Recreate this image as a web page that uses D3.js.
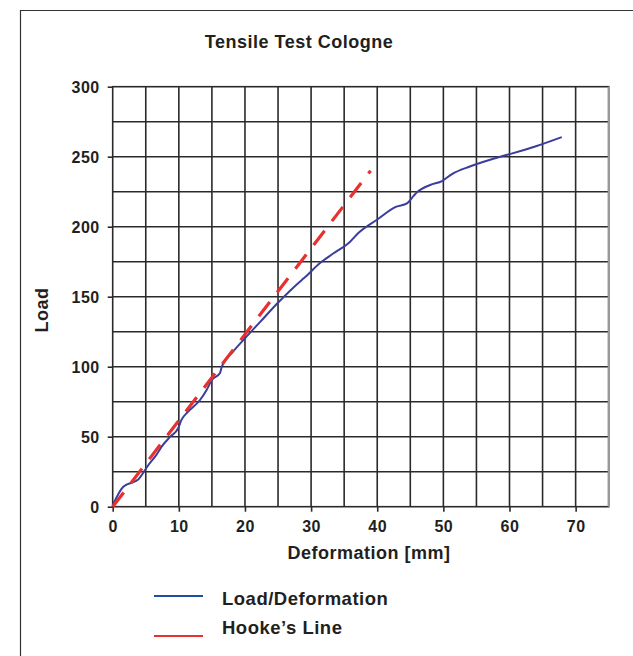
<!DOCTYPE html>
<html><head><meta charset="utf-8">
<script src="https://cdn.jsdelivr.net/npm/d3@7"></script>
<style>
html,body{margin:0;padding:0;background:#fff;}
svg{display:block;}
text{font-family:"Liberation Sans",Arial,Helvetica,sans-serif;font-weight:bold;fill:#231f20;}
</style></head>
<body><svg id="c" width="633" height="656"></svg>
<script>
const title = "Tensile Test Cologne";
const xLabel = "Deformation [mm]";
const yLabel = "Load";
const xTicks = [0,10,20,30,40,50,60,70];
const yTicks = [0,50,100,150,200,250,300];
const loadDefX = [0,1.6,3.9,5.4,6.6,7.4,8.7,9.9,10.4,11.4,13.2,14.2,15,16.2,16.5,18.2,20,22.3,24.8,28.6,29.1,31.3,33.4,35.9,37.1,39.9,42.9,44.5,45.5,46,48,49.8,51.3,54,58.6,60.3,64,67.9];
const loadDefY = [1,14.3,19.6,29.8,37,42.9,50,56,62,67.9,76.2,83.4,90.5,95.3,100,110.7,120.3,132,144.8,162,164,173.9,181,189.3,195.3,204.8,214.3,216.7,222,224.5,229.8,232.6,237.6,243,250,252.2,257.5,264];
const hookeX = [0,39];
const hookeY = [0,240];
const legendLabels = ["Load/Deformation","Hooke\u2019s Line"];
const colors = {load:"#3a3d9c", hooke:"#e8302f", loadLegend:"#1f4f9f"};

const svg = d3.select("#c");
const x = d3.scaleLinear().domain([0,75]).range([112.7,608.7]);
const y = d3.scaleLinear().domain([0,300]).range([506.7,86.7]);

// outer frame
svg.append("path").attr("d","M20.5,656 V10.5 H633").attr("fill","none").attr("stroke","#333").attr("stroke-width",1.2);

// grid
const g = svg.append("g");
g.selectAll(".gx").data(d3.range(5,75,5)).enter().append("line")
 .attr("x1",d=>x(d)).attr("x2",d=>x(d)).attr("y1",y(0)).attr("y2",y(300))
 .attr("stroke","#2a2a2a").attr("stroke-width",1.6);
g.selectAll(".gy").data(d3.range(25,300,25)).enter().append("line")
 .attr("x1",x(0)).attr("x2",x(75)).attr("y1",d=>y(d)).attr("y2",d=>y(d))
 .attr("stroke","#2a2a2a").attr("stroke-width",1.6);
// border
g.append("rect").attr("x",x(0)).attr("y",y(300)).attr("width",x(75)-x(0)).attr("height",y(0)-y(300))
 .attr("fill","none").attr("stroke","#2a2a2a").attr("stroke-width",1.6);
g.append("line").attr("x1",x(75)).attr("x2",x(75)).attr("y1",y(300)).attr("y2",y(0)).attr("stroke","#999").attr("stroke-width",2);

// axes
const xAxis = d3.axisBottom(x).tickValues(xTicks).tickSize(5).tickPadding(9);
const yAxis = d3.axisLeft(y).tickValues(yTicks).tickSize(5).tickPadding(8);
const gx = svg.append("g").attr("transform",`translate(0,${y(0)})`).call(xAxis);
const gy = svg.append("g").attr("transform",`translate(${x(0)},0)`).call(yAxis);
[gx,gy].forEach(a=>{
  a.select(".domain").remove();
  a.selectAll(".tick line").attr("stroke","#2a2a2a").attr("stroke-width",1.6);
  a.selectAll("text").style("font-size","16px").style("letter-spacing","0.5px").style("font-family","'Liberation Sans',Arial,sans-serif").style("font-weight","bold").attr("fill","#231f20");
});
gy.selectAll("text").attr("dy","0.35em");

// lines
const line = d3.line().x(d=>x(d[0])).y(d=>y(d[1])).curve(d3.curveMonotoneX);
svg.append("path").datum(loadDefX.map((v,i)=>[v,loadDefY[i]]))
 .attr("d",line).attr("fill","none").attr("stroke",colors.load).attr("stroke-width",2);
svg.append("path").datum(hookeX.map((v,i)=>[v,hookeY[i]]))
 .attr("d",d3.line().x(d=>x(d[0])).y(d=>y(d[1]))).attr("fill","none")
 .attr("stroke",colors.hooke).attr("stroke-width",3.2).attr("stroke-dasharray","18,12");

// titles
svg.append("text").attr("x",299).attr("y",48).attr("text-anchor","middle").style("font-size","18px").style("letter-spacing","0.5px").text(title);
svg.append("text").attr("x",369).attr("y",559).attr("text-anchor","middle").style("font-size","18px").style("letter-spacing","0.5px").text(xLabel);
svg.append("text").attr("transform","translate(48,310) rotate(-90)").attr("text-anchor","middle").style("font-size","18px").style("letter-spacing","0.5px").text(yLabel);

// legend
const leg = svg.append("g");
const legY = [596,636];
const textY = [599,628];
const legC = [colors.loadLegend, colors.hooke];
legendLabels.forEach((l,i)=>{
  leg.append("line").attr("x1",154).attr("x2",203).attr("y1",legY[i]).attr("y2",legY[i]).attr("stroke",legC[i]).attr("stroke-width",2.2);
  leg.append("text").attr("x",222).attr("y",textY[i]).attr("dy","0.35em").style("font-size","18.5px").style("letter-spacing","0.5px").text(l);
});
</script></body></html>
